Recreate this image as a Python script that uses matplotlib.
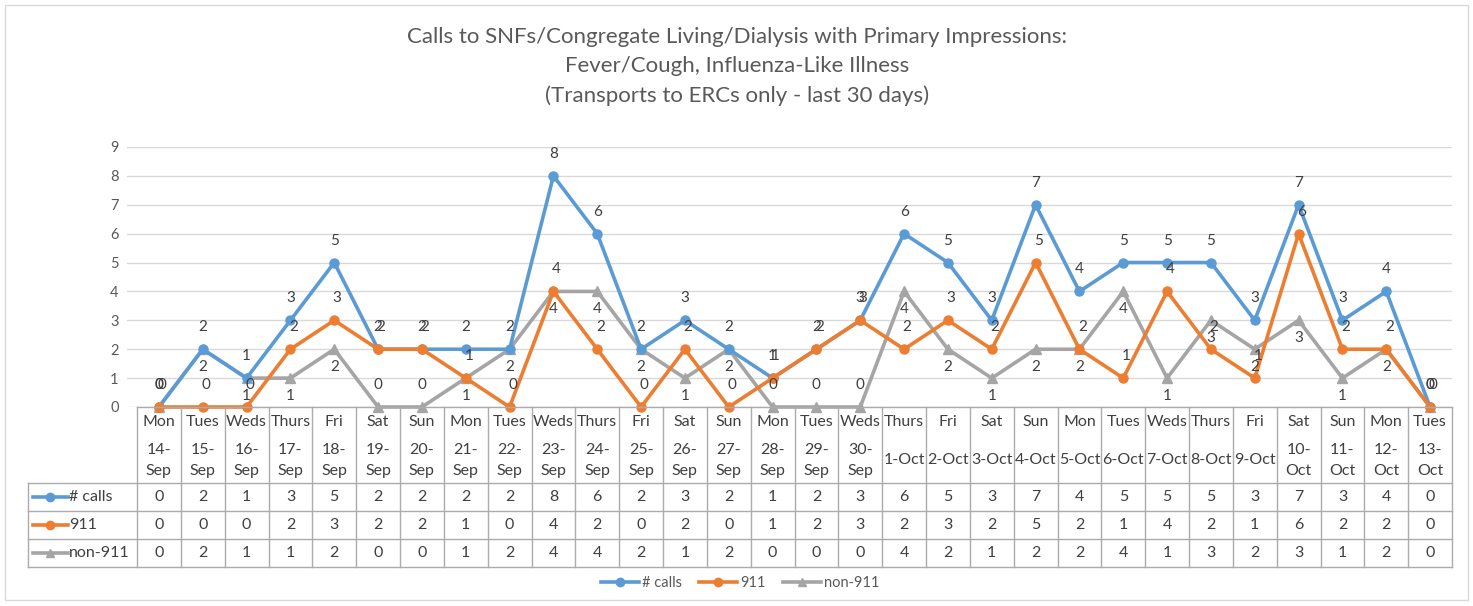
import matplotlib
matplotlib.use("Agg")
import matplotlib.pyplot as plt
from matplotlib.lines import Line2D

plt.rcParams['font.family'] = ['Lato', 'DejaVu Sans']

days = ["Mon", "Tues", "Weds", "Thurs", "Fri", "Sat", "Sun", "Mon", "Tues", "Weds",
        "Thurs", "Fri", "Sat", "Sun", "Mon", "Tues", "Weds", "Thurs", "Fri", "Sat",
        "Sun", "Mon", "Tues", "Weds", "Thurs", "Fri", "Sat", "Sun", "Mon", "Tues"]
dates = ["14-Sep", "15-Sep", "16-Sep", "17-Sep", "18-Sep", "19-Sep", "20-Sep", "21-Sep",
         "22-Sep", "23-Sep", "24-Sep", "25-Sep", "26-Sep", "27-Sep", "28-Sep", "29-Sep",
         "30-Sep", "1-Oct", "2-Oct", "3-Oct", "4-Oct", "5-Oct", "6-Oct", "7-Oct",
         "8-Oct", "9-Oct", "10-Oct", "11-Oct", "12-Oct", "13-Oct"]
calls = [0, 2, 1, 3, 5, 2, 2, 2, 2, 8, 6, 2, 3, 2, 1, 2, 3, 6, 5, 3, 7, 4, 5, 5, 5, 3, 7, 3, 4, 0]
calls_911 = [0, 0, 0, 2, 3, 2, 2, 1, 0, 4, 2, 0, 2, 0, 1, 2, 3, 2, 3, 2, 5, 2, 1, 4, 2, 1, 6, 2, 2, 0]
non_911 = [0, 2, 1, 1, 2, 0, 0, 1, 2, 4, 4, 2, 1, 2, 0, 0, 0, 4, 2, 1, 2, 2, 4, 1, 3, 2, 3, 1, 2, 0]
series_names = ["# calls", "911", "non-911"]
title_lines = ["Calls to SNFs/Congregate Living/Dialysis with Primary Impressions:",
               "Fever/Cough, Influenza-Like Illness",
               "(Transports to ERCs only - last 30 days)"]

W, H = 1473, 606
fig = plt.figure(figsize=(W / 100, H / 100), dpi=100)

def fx(x):
    return x / W

def fy(y):
    return 1 - y / H

# outer chart border
fig.add_artist(plt.Rectangle((fx(5), fy(600)), fx(1463), 595 / H, fill=False,
                             edgecolor="#d9d9d9", linewidth=1.0, transform=fig.transFigure))

col_left, col_right = 137, 1452
n = len(calls)
cw = (col_right - col_left) / n
grid_left = 127
ytop, ybot = 147, 407

ax = fig.add_axes([fx(grid_left), fy(ybot), fx(col_right - grid_left), (ybot - ytop) / H])
ax.set_xlim(-0.5 - (col_left - grid_left) / cw, n - 0.5)
ax.set_ylim(0, 9)
ax.set_yticks(range(10))
ax.yaxis.grid(True, color="#d9d9d9", linewidth=1.0)
ax.set_axisbelow(True)
ax.set_xticks([])
for s in ax.spines.values():
    s.set_visible(False)
ax.tick_params(axis='y', length=0, pad=6, labelsize=10.5, labelcolor="#595959")
ax.patch.set_alpha(0)

colors = ["#5B9BD5", "#ED7D31", "#A5A5A5"]
markers = ["o", "o", "^"]
data = [calls, calls_911, non_911]
x = list(range(n))
for vals, c, m, z in zip(data, colors, markers, [3, 4, 2]):
    ax.plot(x, vals, color=c, linewidth=2.6, marker=m, markersize=6.5,
            markeredgecolor=c, zorder=z, clip_on=False)

lab_kw = dict(textcoords="offset pixels", ha="center", va="center", fontsize=11,
              color="#404040", zorder=6, annotation_clip=False)
for i in x:
    ax.annotate(str(calls[i]), (i, calls[i]), xytext=(0, 22), **lab_kw)
    ax.annotate(str(calls_911[i]), (i, calls_911[i]), xytext=(3, 22), **lab_kw)
    v = non_911[i]
    off = 22 if v == 0 else -18
    ax.annotate(str(v), (i, v), xytext=(0, off), **lab_kw)

# title
for k, t in enumerate(title_lines):
    fig.text(fx(737), fy(37 + 29.5 * k), t, ha="center", va="center", fontsize=16,
             color="#595959")

# data table
tbl_left = 28
tax = fig.add_axes([fx(tbl_left), fy(567), fx(col_right - tbl_left), (567 - 407) / H])
tax.set_xlim(-0.5 - (col_left - tbl_left) / cw, n - 0.5)
tax.set_ylim(567, 407)
tax.axis("off")
gc = "#ababab"
lx0 = -0.5 - (col_left - tbl_left) / cw
for k in range(n + 1):
    tax.plot([k - 0.5, k - 0.5], [407, 567], color=gc, linewidth=1.0, clip_on=False)
tax.plot([lx0, lx0], [483, 567], color=gc, linewidth=1.0, clip_on=False)
tax.plot([-0.5, n - 0.5], [407, 407], color=gc, linewidth=1.0, clip_on=False)
for yy in [483, 511, 539, 567]:
    tax.plot([lx0, n - 0.5], [yy, yy], color=gc, linewidth=1.0, clip_on=False)

tk = dict(ha="center", va="center", fontsize=11.5, color="#404040")
for i in x:
    tax.text(i, 422, days[i], **tk)
    d = dates[i]
    if len(d) >= 6:
        a, b = d.split("-")
        tax.text(i, 450, a + "-", **tk)
        tax.text(i, 471, b, **tk)
    else:
        tax.text(i, 460, d, **tk)

row_y = [497, 525, 553]
key_l = lx0 + 5 / cw
key_r = lx0 + 40 / cw
for r, (vals, c, m, name) in enumerate(zip(data, colors, markers, series_names)):
    yy = row_y[r]
    tax.plot([key_l, key_r], [yy, yy], color=c, linewidth=2.6, clip_on=False)
    tax.plot([(key_l + key_r) / 2], [yy], color=c, marker=m, markersize=6, clip_on=False)
    tax.text(key_r + 1 / cw, yy, name, ha="left", va="center", fontsize=11.5, color="#404040")
    for i in x:
        tax.text(i, yy, str(vals[i]), **tk)

# legend
handles = [Line2D([0], [0], color=c, marker=m, linewidth=2.6, markersize=6)
           for c, m in zip(colors, markers)]
fig.legend(handles, series_names, loc="center", bbox_to_anchor=(fx(740), fy(583)), ncol=3,
           frameon=False, fontsize=10.5, labelcolor="#595959", handlelength=2.6,
           handletextpad=0.2, columnspacing=1.2)

fig.savefig("out.png", dpi=100)
